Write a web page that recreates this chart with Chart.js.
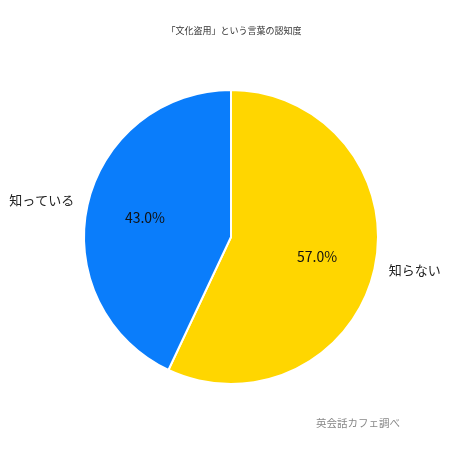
<!DOCTYPE html>
<html lang="ja">
<head>
<meta charset="utf-8">
<script src="https://cdn.jsdelivr.net/npm/chart.js@4"></script>
<style>
  html, body { margin: 0; padding: 0; background: #fff; }
  #wrap { width: 450px; height: 450px; }
</style>
</head>
<body>
<div id="wrap"><canvas id="c" width="450" height="450"></canvas></div>
<script>
// データ
const labels = ['知らない', '知っている'];
const values = [57.0, 43.0];
const colors = ['#FFD600', '#0A7DFB'];
const titleText = '「文化盗用」という言葉の認知度';
const sourceText = '英会話カフェ調べ';

const FONT = '"Noto Sans CJK JP", "Noto Sans", sans-serif';

// ラベル・タイトル描画
const labelPlugin = {
  id: 'labelPlugin',
  afterDraw(chart) {
    const ctx = chart.ctx;
    const meta = chart.getDatasetMeta(0);
    ctx.save();
    meta.data.forEach((arc, i) => {
      const mid = (arc.startAngle + arc.endAngle) / 2;
      const r = arc.outerRadius;
      // 内側のパーセント
      ctx.fillStyle = '#111';
      ctx.font = '14px ' + FONT;
      ctx.textAlign = 'center';
      ctx.textBaseline = 'middle';
      ctx.fillText(values[i].toFixed(1) + '%', arc.x + Math.cos(mid) * r * 0.6, arc.y + Math.sin(mid) * r * 0.6);
      // 外側のカテゴリ名
      ctx.fillStyle = '#222';
      ctx.font = '13px ' + FONT;
      const left = Math.cos(mid) < 0;
      const lx = arc.x + Math.cos(mid) * r * (left ? 1.32 : 1.28);
      const ly = arc.y + Math.sin(mid) * r * 1.28 + (left ? 4 : -8);
      ctx.fillText(labels[i], lx, ly);
    });
    // タイトル
    ctx.fillStyle = '#333';
    ctx.font = '9px ' + FONT;
    ctx.textAlign = 'center';
    ctx.fillText(titleText, 234, 31);
    // 出典
    ctx.fillStyle = '#888';
    ctx.font = '10.5px ' + FONT;
    ctx.textAlign = 'right';
    ctx.fillText(sourceText, 400, 423);
    ctx.restore();
  }
};

new Chart(document.getElementById('c'), {
  type: 'pie',
  data: {
    labels: labels,
    datasets: [{
      data: values,
      backgroundColor: colors,
      borderColor: '#fff',
      borderWidth: 2
    }]
  },
  options: {
    responsive: false,
    animation: false,
    layout: { padding: { left: 83, right: 71, top: 89, bottom: 65 } },
    plugins: {
      legend: { display: false },
      tooltip: { enabled: false }
    }
  },
  plugins: [labelPlugin]
});
</script>
</body>
</html>
